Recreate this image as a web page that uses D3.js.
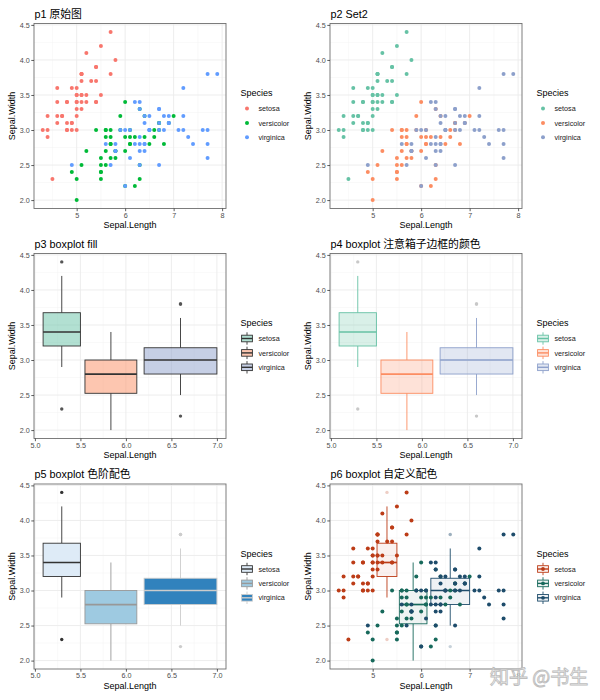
<!DOCTYPE html>
<html lang="zh">
<head>
<meta charset="UTF-8">
<title>iris boxplot 配色</title>
<style>
  body { margin: 0; background: #fff; }
  svg { display: block; font-family: "Liberation Sans", Arial, "Noto Sans CJK SC", sans-serif; }
  .axis text { fill: #4d4d4d; font-size: 7.2px; font-family: "Liberation Sans", Arial, sans-serif; }
  .axis line { stroke: #333; stroke-width: 0.8; }
</style>
</head>
<body>
<svg id="chart" width="600" height="700"></svg>
<script src="https://cdn.jsdelivr.net/npm/d3@7"></script>
<script>
// iris: Sepal.Length / Sepal.Width per species
const species = ["setosa", "versicolor", "virginica"];

const setosaLength = [5.1,4.9,4.7,4.6,5.0,5.4,4.6,5.0,4.4,4.9, 5.4,4.8,4.8,4.3,5.8,5.7,5.4,5.1,5.7,5.1,
  5.4,5.1,4.6,5.1,4.8,5.0,5.0,5.2,5.2,4.7, 4.8,5.4,5.2,5.5,4.9,5.0,5.5,4.9,4.4,5.1,
  5.0,4.5,4.4,5.0,5.1,4.8,5.1,4.6,5.3,5.0];
const setosaWidth = [3.5,3.0,3.2,3.1,3.6,3.9,3.4,3.4,2.9,3.1, 3.7,3.4,3.0,3.0,4.0,4.4,3.9,3.5,3.8,3.8,
  3.4,3.7,3.6,3.3,3.4,3.0,3.4,3.5,3.4,3.2, 3.1,3.4,4.1,4.2,3.1,3.2,3.5,3.6,3.0,3.4,
  3.5,2.3,3.2,3.5,3.8,3.0,3.8,3.2,3.7,3.3];
const versicolorLength = [7.0,6.4,6.9,5.5,6.5,5.7,6.3,4.9,6.6,5.2, 5.0,5.9,6.0,6.1,5.6,6.7,5.6,5.8,6.2,5.6,
  5.9,6.1,6.3,6.1,6.4,6.6,6.8,6.7,6.0,5.7, 5.5,5.5,5.8,6.0,5.4,6.0,6.7,6.3,5.6,5.5,
  5.5,6.1,5.8,5.0,5.6,5.7,5.7,6.2,5.1,5.7];
const versicolorWidth = [3.2,3.2,3.1,2.3,2.8,2.8,3.3,2.4,2.9,2.7, 2.0,3.0,2.2,2.9,2.9,3.1,3.0,2.7,2.2,2.5,
  3.2,2.8,2.5,2.8,2.9,3.0,2.8,3.0,2.9,2.6, 2.4,2.4,2.7,2.7,3.0,3.4,3.1,2.3,3.0,2.5,
  2.6,3.0,2.6,2.3,2.7,3.0,2.9,2.9,2.5,2.8];
const virginicaLength = [6.3,5.8,7.1,6.3,6.5,7.6,4.9,7.3,6.7,7.2, 6.5,6.4,6.8,5.7,5.8,6.4,6.5,7.7,7.7,6.0,
  6.9,5.6,7.7,6.3,6.7,7.2,6.2,6.1,6.4,7.2, 7.4,7.9,6.4,6.3,6.1,7.7,6.3,6.4,6.0,6.9,
  6.7,6.9,5.8,6.8,6.7,6.7,6.3,6.5,6.2,5.9];
const virginicaWidth = [3.3,2.7,3.0,2.9,3.0,3.0,2.5,2.9,2.5,3.6, 3.2,2.7,3.0,2.5,2.8,3.2,3.0,3.8,2.6,2.2,
  3.2,2.8,2.8,2.7,3.3,3.2,2.8,3.0,2.8,3.0, 2.8,3.8,2.8,2.8,2.6,3.0,3.4,3.1,3.0,3.1,
  3.1,3.1,2.7,3.2,3.3,3.0,2.5,3.0,3.4,3.0];

// box extents along Sepal.Length
const boxLeft = [5.09, 5.55, 6.2];
const boxRight = [5.5, 6.12, 7.0];

const xTicksScatter = [5, 6, 7, 8];
const xTicksBox = [5.0, 5.5, 6.0, 6.5, 7.0];
const yTicks = [2.0, 2.5, 3.0, 3.5, 4.0, 4.5];

const titles = ["p1 原始图", "p2 Set2", "p3 boxplot fill", "p4 boxplot 注意箱子边框的颜色",
  "p5 boxplot 色阶配色", "p6 boxplot 自定义配色"];

const hueColors = ["#F8766D", "#00BA38", "#619CFF"];
const set2Colors = ["#66C2A5", "#FC8D62", "#8DA0CB"];
const bluesColors = ["#DEEBF7", "#9ECAE1", "#3182BD"];
const greyColors = ["#333333", "#989898", "#CCCCCC"];
const customColors = ["#BC3C17", "#17695B", "#1E4C6B"];

const lengths = [setosaLength, versicolorLength, virginicaLength];
const widths = [setosaWidth, versicolorWidth, virginicaWidth];

const svg = d3.select("#chart");
const W = 192, H = 185;
const colX = [34, 330], rowY = [23.5, 253.5, 484];
const yDomain = [1.88, 4.52];
const scatterDomain = [4.12, 8.08];
const boxDomain = [4.99, 7.10];

function minorOf(majors, dom) {
  const step = majors[1] - majors[0];
  const ext = [majors[0] - step, ...majors, majors[majors.length - 1] + step];
  return d3.pairs(ext, (a, b) => (a + b) / 2).filter(v => v > dom[0] && v < dom[1]);
}

function boxStats(values) {
  const s = values.slice().sort(d3.ascending);
  const q1 = d3.quantile(s, 0.25), med = d3.quantile(s, 0.5), q3 = d3.quantile(s, 0.75);
  const lo = q1 - 1.5 * (q3 - q1), hi = q3 + 1.5 * (q3 - q1);
  const inside = s.filter(v => v >= lo && v <= hi);
  return { q1, med, q3, wlo: d3.min(inside), whi: d3.max(inside), out: s.filter(v => v < lo || v > hi) };
}

function panel(idx, xDom, xTicks, xFmt) {
  const col = idx % 2, row = Math.floor(idx / 2);
  const px = colX[col], py = rowY[row];
  const x = d3.scaleLinear().domain(xDom).range([px, px + W]);
  const y = d3.scaleLinear().domain(yDomain).range([py + H, py]);

  const grid = svg.append("g");
  grid.append("rect").attr("x", px).attr("y", py).attr("width", W).attr("height", H).attr("fill", "#fff");
  grid.selectAll(".xm").data(minorOf(xTicks, xDom)).join("line")
    .attr("x1", d => x(d)).attr("x2", d => x(d)).attr("y1", py).attr("y2", py + H)
    .attr("stroke", "#f3f3f3").attr("stroke-width", 0.5);
  grid.selectAll(".ym").data(minorOf(yTicks, yDomain)).join("line")
    .attr("y1", d => y(d)).attr("y2", d => y(d)).attr("x1", px).attr("x2", px + W)
    .attr("stroke", "#f3f3f3").attr("stroke-width", 0.5);
  grid.selectAll(".xM").data(xTicks).join("line")
    .attr("x1", d => x(d)).attr("x2", d => x(d)).attr("y1", py).attr("y2", py + H)
    .attr("stroke", "#ebebeb").attr("stroke-width", 0.9);
  grid.selectAll(".yM").data(yTicks).join("line")
    .attr("y1", d => y(d)).attr("y2", d => y(d)).attr("x1", px).attr("x2", px + W)
    .attr("stroke", "#ebebeb").attr("stroke-width", 0.9);

  const data = svg.append("g");
  const top = svg.append("g");
  top.append("rect").attr("x", px).attr("y", py).attr("width", W).attr("height", H)
    .attr("fill", "none").attr("stroke", "#6f6f6f").attr("stroke-width", 0.9);

  top.append("g").attr("class", "axis").attr("transform", `translate(0,${py + H})`)
    .call(d3.axisBottom(x).tickValues(xTicks).tickSize(2.7).tickPadding(1.5).tickFormat(xFmt))
    .call(a => a.select(".domain").remove());
  top.append("g").attr("class", "axis").attr("transform", `translate(${px},0)`)
    .call(d3.axisLeft(y).tickValues(yTicks).tickSize(2.7).tickPadding(1.5).tickFormat(d3.format(".1f")))
    .call(a => a.select(".domain").remove());

  top.append("text").attr("x", px + W / 2).attr("y", py + H + 19.8).attr("text-anchor", "middle")
    .attr("font-size", 9).text("Sepal.Length");
  top.append("text").attr("transform", `translate(${px - 18.6},${py + H / 2}) rotate(-90)`)
    .attr("text-anchor", "middle").attr("font-size", 9).text("Sepal.Width");
  top.append("text").attr("x", px + 0.5).attr("y", py - 6).attr("font-size", 10.8).text(titles[idx]);

  return { data, x, y, px, py };
}

function legend(idx, keyFn) {
  const col = idx % 2, row = Math.floor(idx / 2);
  const lx = colX[col] + W, ly = rowY[row];
  const g = svg.append("g");
  g.append("text").attr("x", lx + 14.5).attr("y", ly + 72.7).attr("font-size", 9).text("Species");
  species.forEach((s, i) => {
    const cy = ly + 85 + i * 14.4, cx = lx + 21;
    keyFn(g.append("g"), cx, cy, i);
    g.append("text").attr("x", lx + 32.5).attr("y", cy + 2.6).attr("font-size", 7.2)
      .attr("fill", "#1a1a1a").text(s);
  });
}

function scatter(p, colors) {
  species.forEach((s, i) => {
    p.data.append("g").selectAll("circle").data(d3.range(lengths[i].length)).join("circle")
      .attr("cx", j => p.x(lengths[i][j])).attr("cy", j => p.y(widths[i][j]))
      .attr("r", 2).attr("fill", colors[i]);
  });
}

function boxes(p, st) {
  species.forEach((s, i) => {
    const b = boxStats(widths[i]);
    const cx = p.x((boxLeft[i] + boxRight[i]) / 2);
    const g = p.data.append("g");
    g.append("line").attr("x1", cx).attr("x2", cx).attr("y1", p.y(b.whi)).attr("y2", p.y(b.q3))
      .attr("stroke", st.stroke[i]).attr("stroke-width", 0.9);
    g.append("line").attr("x1", cx).attr("x2", cx).attr("y1", p.y(b.q1)).attr("y2", p.y(b.wlo))
      .attr("stroke", st.stroke[i]).attr("stroke-width", 0.9);
    g.append("rect").attr("x", p.x(boxLeft[i])).attr("y", p.y(b.q3))
      .attr("width", p.x(boxRight[i]) - p.x(boxLeft[i])).attr("height", p.y(b.q1) - p.y(b.q3))
      .attr("fill", st.fill[i]).attr("fill-opacity", st.fillOpacity)
      .attr("stroke", st.stroke[i]).attr("stroke-width", 0.9);
    g.append("line").attr("x1", p.x(boxLeft[i])).attr("x2", p.x(boxRight[i]))
      .attr("y1", p.y(b.med)).attr("y2", p.y(b.med))
      .attr("stroke", st.stroke[i]).attr("stroke-width", 1.7);
    g.selectAll("circle").data(b.out).join("circle")
      .attr("cx", cx).attr("cy", d => p.y(d)).attr("r", 1.7)
      .attr("fill", st.outlier[i]).attr("fill-opacity", st.outlierOpacity);
  });
}

function boxKey(st, withPoint) {
  return (g, cx, cy, i) => {
    g.append("line").attr("x1", cx).attr("x2", cx).attr("y1", cy - 6.2).attr("y2", cy - 3.3)
      .attr("stroke", st.stroke[i]).attr("stroke-width", 0.9);
    g.append("line").attr("x1", cx).attr("x2", cx).attr("y1", cy + 3.3).attr("y2", cy + 6.2)
      .attr("stroke", st.stroke[i]).attr("stroke-width", 0.9);
    g.append("rect").attr("x", cx - 5.4).attr("y", cy - 3.3).attr("width", 10.8).attr("height", 6.6)
      .attr("fill", st.fill[i]).attr("fill-opacity", st.fillOpacity)
      .attr("stroke", st.stroke[i]).attr("stroke-width", 0.9);
    g.append("line").attr("x1", cx - 5.4).attr("x2", cx + 5.4).attr("y1", cy).attr("y2", cy)
      .attr("stroke", st.stroke[i]).attr("stroke-width", 1.4);
    if (withPoint) g.append("circle").attr("cx", cx).attr("cy", cy).attr("r", 1.9).attr("fill", st.stroke[i]);
  };
}

const dotKey = colors => (g, cx, cy, i) =>
  g.append("circle").attr("cx", cx).attr("cy", cy).attr("r", 2).attr("fill", colors[i]);

// p1, p2: scatter
scatter(panel(0, scatterDomain, xTicksScatter, d3.format("d")), hueColors);
legend(0, dotKey(hueColors));
scatter(panel(1, scatterDomain, xTicksScatter, d3.format("d")), set2Colors);
legend(1, dotKey(set2Colors));

// p3..p5: boxplots
const st3 = { fill: set2Colors, fillOpacity: 0.5, stroke: ["#333", "#333", "#333"],
  outlier: ["#555", "#555", "#555"], outlierOpacity: 1 };
boxes(panel(2, boxDomain, xTicksBox, d3.format(".1f")), st3);
legend(2, boxKey(st3, false));

const st4 = { fill: set2Colors, fillOpacity: 0.25, stroke: set2Colors,
  outlier: ["#c8c8c8", "#c8c8c8", "#c8c8c8"], outlierOpacity: 1 };
boxes(panel(3, boxDomain, xTicksBox, d3.format(".1f")), st4);
legend(3, boxKey(st4, false));

const st5 = { fill: bluesColors, fillOpacity: 1, stroke: greyColors, outlier: greyColors, outlierOpacity: 1 };
boxes(panel(4, boxDomain, xTicksBox, d3.format(".1f")), st5);
legend(4, boxKey(st5, false));

// p6: boxplot + points
const st6 = { fill: customColors, fillOpacity: 0.07, stroke: customColors, outlier: customColors, outlierOpacity: 0.25 };
const p6 = panel(5, scatterDomain, xTicksScatter, d3.format("d"));
boxes(p6, st6);
scatter(p6, customColors);
legend(5, boxKey(st6, true));

// watermark
svg.append("text").attr("x", 490).attr("y", 684).attr("font-size", 19)
  .attr("font-family", "'Noto Sans CJK SC', sans-serif")
  .attr("fill", "#ffffff").attr("fill-opacity", 0.7)
  .attr("stroke", "#bdbdbd").attr("stroke-width", 0.9)
  .text("知乎 @书生");
</script>
</body>
</html>
